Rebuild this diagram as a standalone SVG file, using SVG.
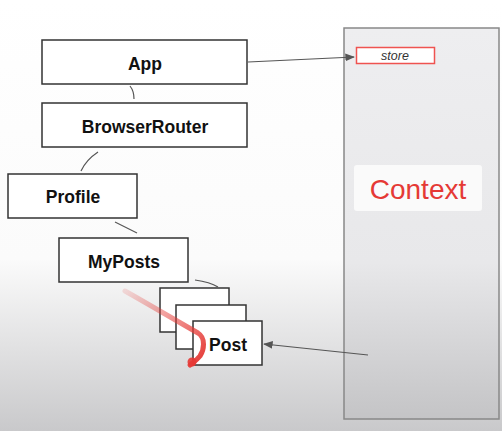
<svg xmlns="http://www.w3.org/2000/svg" width="502" height="431" viewBox="0 0 502 431">
<defs>
<linearGradient id="bg" x1="0" y1="0" x2="0" y2="1">
<stop offset="0" stop-color="#ffffff"/>
<stop offset="0.6" stop-color="#fbfbfb"/>
<stop offset="1" stop-color="#c9c9cb"/>
</linearGradient>
<linearGradient id="panel" x1="0" y1="0" x2="0" y2="1">
<stop offset="0" stop-color="#eeeef0"/>
<stop offset="0.6" stop-color="#e8e8ea"/>
<stop offset="1" stop-color="#c4c4c6"/>
</linearGradient>
<linearGradient id="brush" gradientUnits="userSpaceOnUse" x1="125" y1="291" x2="200" y2="360">
<stop offset="0" stop-color="#e53935" stop-opacity="0.15"/>
<stop offset="0.6" stop-color="#e53935" stop-opacity="0.6"/>
<stop offset="1" stop-color="#e53935" stop-opacity="0.95"/>
</linearGradient>
<marker id="ah" viewBox="0 0 10 10" refX="9" refY="5" markerWidth="8" markerHeight="8" orient="auto">
<path d="M0,1 L10,5 L0,9 Z" fill="#555"/>
</marker>
</defs>
<style>
.node rect{fill:#fff;stroke:#333;stroke-width:1.5}
.node text{font-family:"Liberation Sans",Arial,sans-serif;font-weight:bold;font-size:17.5px;fill:#111;text-anchor:middle}
.conn path{fill:none;stroke:#555;stroke-width:1.2}
</style>
<rect width="502" height="431" fill="url(#bg)"/>
<g id="context">
<rect x="344" y="28" width="155" height="391" fill="url(#panel)" stroke="#888" stroke-width="1.5"/>
<rect x="354" y="165" width="128" height="46" rx="3" fill="#fafafa"/>
<text x="418" y="199" font-family="Liberation Sans,Arial,sans-serif" font-size="28" fill="#e53935" text-anchor="middle">Context</text>
</g>
<g id="store">
<rect x="356.5" y="47.5" width="78" height="16" fill="#fff" stroke="#ef5350" stroke-width="1.5"/>
<text x="395" y="60" font-family="Liberation Sans,Arial,sans-serif" font-style="italic" font-size="12.5" fill="#333" text-anchor="middle">store</text>
</g>
<g id="app" class="node"><rect x="42" y="40" width="205" height="44"/><text x="145" y="70">App</text></g>
<g id="browserrouter" class="node"><rect x="42" y="103" width="205" height="44"/><text x="145" y="133">BrowserRouter</text></g>
<g id="profile" class="node"><rect x="8" y="174" width="129" height="44"/><text x="73" y="203">Profile</text></g>
<g id="myposts" class="node"><rect x="59" y="238" width="129" height="44"/><text x="124" y="268">MyPosts</text></g>
<g id="post" class="node">
<rect x="160" y="288" width="69" height="44"/>
<rect x="176" y="305" width="70" height="44"/>
<rect x="193" y="321" width="69" height="44"/>
<text x="228" y="351">Post</text>
</g>
<g class="conn">
<path d="M130,86 Q134,91 134,99"/>
<path d="M98,152 Q86,160 81,171"/>
<path d="M115,222 L137,233"/>
<path d="M195,280 Q210,282 218,287"/>
<path d="M248,62 L354,57" marker-end="url(#ah)"/>
<path d="M368,355 L264,344" marker-end="url(#ah)"/>
</g>
<path d="M125,291 C150,305 175,320 198,333 C206,338 204,350 200,356 C196,361 192,363 190,365" fill="none" stroke="url(#brush)" stroke-width="5" stroke-linecap="round"/>
<circle cx="192" cy="362" r="4.5" fill="#e53935" opacity="0.9"/>
</svg>
